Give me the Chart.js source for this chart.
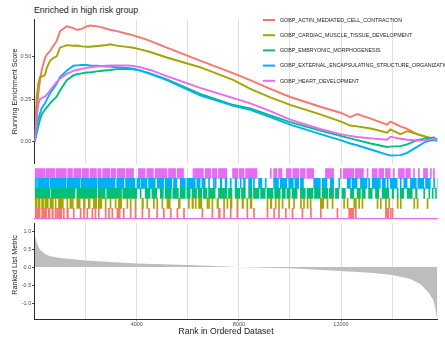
<!DOCTYPE html>
<html>
<head>
<meta charset="utf-8">
<script src="https://cdn.jsdelivr.net/npm/chart.js@4.4.1/dist/chart.umd.min.js"></script>
<style>
html,body{margin:0;padding:0;background:#ffffff;}
#wrap{position:relative;width:445px;height:341px;overflow:hidden;background:#fff;font-family:"Liberation Sans",Arial,Helvetica,sans-serif;}
#wrap canvas{position:absolute;left:0;}
#title{position:absolute;left:34px;top:5px;font-size:8.8px;line-height:11px;color:#1a1a1a;white-space:nowrap;}
#xtitle{position:absolute;left:126px;width:200px;text-align:center;top:325.5px;font-size:8.6px;line-height:11px;color:#1a1a1a;white-space:nowrap;}
#ytitle3{position:absolute;left:-35px;top:260px;width:100px;height:10px;line-height:10px;text-align:center;font-size:7.2px;color:#1a1a1a;white-space:nowrap;transform:rotate(-90deg);transform-origin:50% 50%;}
</style>
</head>
<body>
<div id="wrap">
<div id="title">Enriched in high risk group</div>
<canvas id="es" width="445" height="168" style="top:0px"></canvas>
<canvas id="hits" width="445" height="53" style="top:167px"></canvas>
<canvas id="metric" width="445" height="122" style="top:219px"></canvas>
<div id="xtitle">Rank in Ordered Dataset</div>
<div id="ytitle3">Ranked List Metric</div>
</div>
<script>
// ---------------- data ----------------
const N_GENES = 15776;
const seriesNames = [
  'GOBP_ACTIN_MEDIATED_CELL_CONTRACTION',
  'GOBP_CARDIAC_MUSCLE_TISSUE_DEVELOPMENT',
  'GOBP_EMBRYONIC_MORPHOGENESIS',
  'GOBP_EXTERNAL_ENCAPSULATING_STRUCTURE_ORGANIZATION',
  'GOBP_HEART_DEVELOPMENT'
];
const seriesColors = ['#F8766D', '#A3A500', '#00BF7D', '#00B0F6', '#E76BF3'];

// ranks at which running enrichment scores are read
const ranks = [0, 80, 140, 210, 275, 400, 470, 600, 730, 860, 990, 1255, 1515, 1650, 1845, 2040, 2170, 2430, 2560, 2825, 2955, 3215, 3610, 3865, 4130, 4520, 5175, 6480, 7790, 8445, 9230, 10010, 11190, 11975, 12365, 12630, 13165, 13805, 13935, 14325, 14590, 14980, 15305, 15630, 15776];

const esActin = [0, 0.17, 0.28, 0.36, 0.42, 0.49, 0.51, 0.53, 0.56, 0.59, 0.646, 0.675, 0.665, 0.655, 0.66, 0.675, 0.68, 0.675, 0.672, 0.66, 0.655, 0.647, 0.632, 0.622, 0.61, 0.59, 0.55, 0.475, 0.40, 0.36, 0.31, 0.262, 0.205, 0.17, 0.145, 0.162, 0.135, 0.10, 0.118, 0.09, 0.075, 0.045, 0.03, 0.012, 0.005];
const esCardiac = [0, 0.265, 0.34, 0.38, 0.38, 0.39, 0.43, 0.474, 0.49, 0.50, 0.55, 0.565, 0.562, 0.563, 0.558, 0.556, 0.556, 0.56, 0.562, 0.566, 0.57, 0.562, 0.555, 0.55, 0.54, 0.525, 0.493, 0.436, 0.36, 0.31, 0.26, 0.216, 0.16, 0.12, 0.095, 0.09, 0.078, 0.053, 0.072, 0.045, 0.062, 0.045, 0.03, 0.018, 0.012];
const esEmbryonic = [0, 0.05, 0.09, 0.13, 0.16, 0.187, 0.20, 0.225, 0.245, 0.264, 0.30, 0.36, 0.388, 0.395, 0.40, 0.405, 0.405, 0.412, 0.414, 0.418, 0.42, 0.425, 0.426, 0.424, 0.416, 0.40, 0.365, 0.28, 0.215, 0.195, 0.155, 0.115, 0.065, 0.035, 0.02, 0.01, -0.01, -0.03, -0.028, -0.025, -0.015, 0.01, 0.02, 0.025, 0.015];
const esExternal = [0, 0.09, 0.13, 0.168, 0.197, 0.225, 0.245, 0.283, 0.31, 0.34, 0.378, 0.416, 0.445, 0.447, 0.449, 0.449, 0.446, 0.445, 0.443, 0.44, 0.44, 0.436, 0.432, 0.428, 0.418, 0.397, 0.36, 0.272, 0.21, 0.187, 0.145, 0.10, 0.045, 0.01, -0.01, -0.02, -0.045, -0.075, -0.08, -0.078, -0.065, -0.03, 0.0, 0.012, 0.005];
const esHeart = [0, 0.14, 0.22, 0.25, 0.255, 0.265, 0.275, 0.30, 0.325, 0.35, 0.369, 0.397, 0.415, 0.42, 0.426, 0.432, 0.436, 0.44, 0.443, 0.445, 0.446, 0.447, 0.446, 0.444, 0.436, 0.42, 0.384, 0.315, 0.255, 0.225, 0.18, 0.13, 0.075, 0.045, 0.035, 0.028, 0.02, 0.012, 0.03, 0.018, 0.012, 0.008, 0.01, 0.018, 0.01];
const esSeries = [esActin, esCardiac, esEmbryonic, esExternal, esHeart];

// hit positions (rank, or [from, to] for runs of adjacent hits)
const hitsActin = [[10,210],[270,470],[530,600],[670,730],800,860,[930,1060],1120,[1260,1320],1510,1780,1910,2040,2240,2360,2490,2760,2890,3020,[3220,3350],3470,3740,3930,4200,4460,4780,5040,5310,5570,5830,6550,6940,[7200,7270],7400,7660,7920,8310,8570,9100,9360,9550,9820,10080,10470,10800,11190,11840,[12300,12500],12560,[13740,13870],13930,14000];
const hitsCardiac = [[10,90],[130,210],[270,350],[400,530],[600,730],800,[930,1120],1260,[1380,1510],1650,[1710,1780],[1910,1970],[2100,2170],[2300,2430],[2490,2630],2760,2950,3150,[3280,3410],3610,3740,3930,[4200,4260],4390,4650,4780,4980,[5180,5310],[5630,5700],6020,[6160,6220],6290,[6420,6550],6750,6810,6940,[7140,7200],7400,7530,[7660,7730],7920,[8120,8180],8310,[8440,8510],9100,[9230,9290],9420,9550,9690,9950,10140,10410,10530,10670,10790,[11190,11320],11450,11650,12100,12240,12500,12560,12690,12820,13410,13540,13740,13870,14200,14320,14850,14980,15370];
const hitsEmbryonic = [[10,600],[650,1580],[1650,2430],[2490,2760],[2820,3400],[3450,4000],4130,[4330,4520],[4590,4780],[4920,5040],[5110,5350],[5410,5630],[5700,5900],[5960,6090],[6160,6340],[6400,6550],[6610,6750],[6810,7070],[7200,7530],[7590,7730],[7850,8040],[8100,8250],[8380,8510],[8570,8790],[8850,9030],[9100,9340],[9400,9620],[9690,9820],[9880,10010],[10080,10280],[10410,10600],[10670,10900],[10960,11190],[11260,11480],[11540,11710],[11780,11910],[12040,12170],[12370,12500],[12630,12760],[12820,12950],[13080,13220],[13350,13480],[13610,13870],[14000,14060],14200,[14320,14460],[14590,14790],[14920,14980],15240,15440,15570,15700];
const hitsExternal = [[10,70],[110,560],[600,1230],[1270,1780],[1820,2440],[2480,3150],[3210,3500],[3560,3930],[4010,4130],[4170,4400],[4460,4720],[4800,5050],[5110,5370],[5440,5570],[5700,5900],[5960,6290],[6350,6480],[6550,6680],6810,7000,7070,[7270,7330],[7460,7530],7660,[7850,7920],8050,[8180,8250],[8380,8510],8570,[8770,8900],9030,[9360,9550],[9620,9880],[9950,10130],[10190,10340],[10410,10530],[10930,11190],[11260,11450],[11580,11710],11910,[12240,12370],[12430,12630],[12760,13020],13080,[13220,13540],[13610,13740],13810,[13930,14200],14320,[14460,14590],[14720,14950],[15010,15240],[15310,15500],15630,15770];
const hitsHeart = [[10,390],[430,780],[830,1240],[1290,1480],[1530,1800],[1850,2110],[2170,2420],[2470,2600],[2660,2940],[2990,3170],[3230,3540],[3590,3870],[4060,4330],[4390,4650],[4720,5180],[5240,5520],[5580,5830],6200,[6260,6610],[6680,6900],[6960,7140],[7200,7530],[7750,7950],[8010,8200],[8260,8710],9230,[9360,9490],[9550,9690],[9860,10050],[10110,10350],[10410,10600],[10660,10930],[11390,11710],11970,[12090,12500],[12560,12880],13020,[13220,13420],[13480,13670],[13740,13930],14050,[14250,14480],[14540,14720],14840,15030,[15230,15390],15500,15620];
const hitSeries = [hitsActin, hitsCardiac, hitsEmbryonic, hitsExternal, hitsHeart];
const hitRows = ['HEART', 'EXTERNAL', 'EMBRYONIC', 'CARDIAC', 'ACTIN'];
const rowOfSeries = ['ACTIN', 'CARDIAC', 'EMBRYONIC', 'EXTERNAL', 'HEART'];
const HIT_WIDTH = 40;

// ranked list metric
const metricRanks = [0, 30, 90, 150, 210, 400, 600, 990, 2010, 2950, 4010, 6010, 7000, 8010, 9000, 10010, 11970, 13150, 14010, 14720, 15110, 15420, 15620, 15680, 15720, 15740, 15776];
const metricValues = [0.92, 0.80, 0.66, 0.55, 0.48, 0.36, 0.30, 0.25, 0.18, 0.14, 0.10, 0.06, 0.03, 0.0, -0.02, -0.035, -0.11, -0.16, -0.22, -0.33, -0.47, -0.70, -0.92, -1.10, -1.25, -1.37, -1.40];

const esTicks = [0, 0.25, 0.5];
const metricTicks = [-1, -0.5, 0, 0.5, 1];
const rankGridTicks = [2000, 4000, 6000, 8000, 10000, 12000, 14000];
const rankLabelTicks = [4000, 8000, 12000];

// ---------------- drawing ----------------
Chart.defaults.font.family = '"Liberation Sans", Arial, Helvetica, sans-serif';
Chart.defaults.animation = false;

const AXIS_W = 34.7;
const RIGHT_PAD = 7.6;
const GRID_COL = '#e0e0e0';
const AXIS_COL = '#2b2b2b';
const TICK_COL = '#4d4d4d';

function setRankTicks(s) { s.ticks = rankGridTicks.map(v => ({ value: v })); }
function isLabelTick(ctx) { return !!(ctx.tick && rankLabelTicks.includes(ctx.tick.value)); }

function rankX(extra) {
  return Object.assign({
    type: 'linear', min: 0, max: N_GENES,
    afterBuildTicks: setRankTicks,
    ticks: { display: false },
    grid: { color: GRID_COL, lineWidth: 1, drawTicks: false },
    border: { display: false },
    afterFit: s => { s.height = 0; }
  }, extra || {});
}

const legendPlugin = {
  id: 'gseaLegend',
  afterDraw(chart) {
    const ctx = chart.ctx;
    ctx.save();
    chart.data.datasets.forEach((ds, i) => {
      const y = 20 + i * 15.2;
      ctx.strokeStyle = ds.borderColor;
      ctx.lineWidth = 2;
      ctx.beginPath(); ctx.moveTo(263, y); ctx.lineTo(275, y); ctx.stroke();
      ctx.fillStyle = '#1a1a1a';
      ctx.font = '5.3px "Liberation Sans", Arial, sans-serif';
      ctx.textBaseline = 'middle';
      ctx.textAlign = 'left';
      ctx.fillText(ds.label, 280, y + 0.3);
    });
    ctx.restore();
  }
};

// Panel 1: running enrichment score
new Chart(document.getElementById('es'), {
  type: 'line',
  data: {
    datasets: esSeries.map((vals, i) => ({
      label: seriesNames[i],
      data: vals.map((v, j) => ({ x: ranks[j], y: v })),
      borderColor: seriesColors[i],
      backgroundColor: seriesColors[i],
      borderWidth: 1.9,
      pointRadius: 0,
      tension: 0,
      fill: false,
      order: seriesNames.length - i
    }))
  },
  options: {
    responsive: false,
    layout: { padding: { top: 19, bottom: 1.3, left: 0, right: RIGHT_PAD } },
    plugins: { legend: { display: false }, tooltip: { enabled: false } },
    scales: {
      x: rankX(),
      y: {
        type: 'linear', min: -0.128, max: 0.718,
        afterBuildTicks: s => { s.ticks = esTicks.map(v => ({ value: v })); },
        ticks: { font: { size: 5.5 }, color: TICK_COL, padding: 1, callback: v => Number(v).toFixed(2) },
        grid: { drawOnChartArea: false, drawTicks: true, tickLength: 2.5, tickColor: AXIS_COL },
        border: { display: true, color: AXIS_COL, width: 1 },
        title: { display: true, text: 'Running Enrichment Score', font: { size: 7.2 }, color: '#1a1a1a', padding: { top: 10.5, bottom: 0 } },
        afterFit: s => { s.width = AXIS_W; }
      }
    }
  },
  plugins: [legendPlugin]
});

// Panel 2: hits
new Chart(document.getElementById('hits'), {
  type: 'bar',
  data: {
    labels: hitRows,
    datasets: hitSeries.map((hits, i) => ({
      label: seriesNames[i],
      data: hits.map(h => ({ x: Array.isArray(h) ? h : [h, h + HIT_WIDTH], y: rowOfSeries[i] })),
      backgroundColor: seriesColors[i],
      borderWidth: 0,
      barPercentage: 1,
      categoryPercentage: 1,
      grouped: false
    }))
  },
  options: {
    indexAxis: 'y',
    responsive: false,
    layout: { padding: { top: 1.3, bottom: 1.7, left: AXIS_W, right: RIGHT_PAD } },
    plugins: { legend: { display: false }, tooltip: { enabled: false } },
    scales: {
      x: rankX({ border: { display: true, color: seriesColors[4], width: 1.3 } }),
      y: { type: 'category', display: false }
    }
  }
});

// Panel 3: ranked list metric
new Chart(document.getElementById('metric'), {
  type: 'line',
  data: {
    datasets: [{
      label: 'Ranked List Metric',
      data: metricValues.map((v, j) => ({ x: metricRanks[j], y: v })),
      borderWidth: 0,
      borderColor: 'rgba(0,0,0,0)',
      backgroundColor: '#bdbdbd',
      pointRadius: 0,
      tension: 0,
      fill: 'origin'
    }]
  },
  options: {
    responsive: false,
    layout: { padding: { top: 2, bottom: 0, left: 0, right: RIGHT_PAD } },
    plugins: { legend: { display: false }, tooltip: { enabled: false } },
    scales: {
      x: {
        type: 'linear', min: 0, max: N_GENES,
        afterBuildTicks: setRankTicks,
        ticks: {
          display: true, autoSkip: false, maxRotation: 0, minRotation: 0,
          font: { size: 5.5 }, color: TICK_COL, padding: 0.5,
          callback: v => rankLabelTicks.includes(v) ? String(v) : ''
        },
        grid: {
          color: GRID_COL, lineWidth: 1, drawTicks: true, tickLength: 1.5,
          tickColor: ctx => isLabelTick(ctx) ? AXIS_COL : 'rgba(0,0,0,0)'
        },
        border: { display: true, color: AXIS_COL, width: 1 },
        afterFit: s => { s.height = 22; }
      },
      y: {
        type: 'linear', min: -1.444, max: 1.216,
        afterBuildTicks: s => { s.ticks = metricTicks.map(v => ({ value: v })); },
        ticks: { font: { size: 5.5 }, color: TICK_COL, padding: 1, callback: v => Number(v).toFixed(1) },
        grid: { drawOnChartArea: false, drawTicks: true, tickLength: 2.5, tickColor: AXIS_COL },
        border: { display: true, color: AXIS_COL, width: 1 },
        afterFit: s => { s.width = AXIS_W; }
      }
    }
  }
});
</script>
</body>
</html>
